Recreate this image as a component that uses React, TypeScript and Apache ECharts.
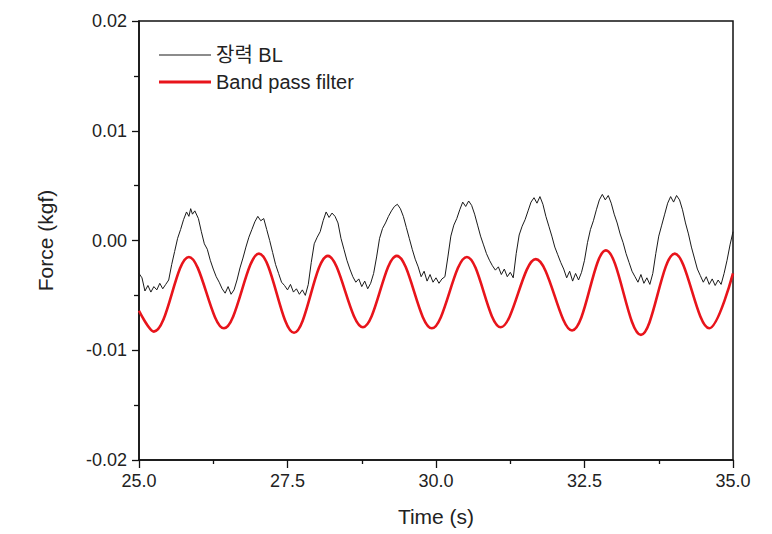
import React, { useEffect, useRef } from "react";
import * as echarts from "echarts";

// Raw tension signal "장력 BL": [time (s), force (kgf)]
const tensionBL: [number, number][] = [
  [25.0, -0.003], [25.05, -0.0034], [25.1, -0.0046], [25.15, -0.0041], [25.2, -0.0047],
  [25.25, -0.0042], [25.3, -0.0045], [25.35, -0.0039], [25.4, -0.0044], [25.45, -0.004],
  [25.5, -0.0036], [25.55, -0.0022], [25.6, -0.001], [25.65, 0.0002], [25.7, 0.001],
  [25.75, 0.0019], [25.8, 0.0026], [25.84, 0.0022], [25.87, 0.0029], [25.9, 0.0024],
  [25.94, 0.0027], [26.0, 0.002], [26.05, 0.0008], [26.1, -0.0003], [26.15, -0.0008],
  [26.2, -0.0018], [26.25, -0.0026], [26.3, -0.0033], [26.35, -0.0038], [26.4, -0.0044],
  [26.45, -0.0048], [26.5, -0.0042], [26.55, -0.0049], [26.6, -0.0045], [26.65, -0.0036],
  [26.7, -0.0025], [26.75, -0.0016], [26.8, -0.0006], [26.85, 0.0003], [26.9, 0.001],
  [26.95, 0.0017], [27.0, 0.0022], [27.05, 0.0018], [27.1, 0.002], [27.15, 0.001],
  [27.2, 0.0], [27.25, -0.0011], [27.3, -0.0022], [27.35, -0.003], [27.4, -0.0038],
  [27.45, -0.0041], [27.5, -0.0045], [27.55, -0.004], [27.6, -0.0047], [27.65, -0.0044],
  [27.7, -0.0049], [27.75, -0.0045], [27.8, -0.005], [27.85, -0.004], [27.9, -0.002],
  [27.95, -0.0003], [28.0, 0.0003], [28.05, 0.0008], [28.1, 0.0018], [28.15, 0.0026],
  [28.2, 0.0021], [28.25, 0.0025], [28.3, 0.0022], [28.35, 0.0016], [28.4, 0.0002],
  [28.45, -0.0008], [28.5, -0.0018], [28.55, -0.0026], [28.6, -0.0033], [28.65, -0.0038],
  [28.7, -0.0035], [28.75, -0.0042], [28.8, -0.0037], [28.85, -0.0044], [28.9, -0.0039],
  [28.95, -0.003], [29.0, -0.0015], [29.05, 0.0002], [29.1, 0.0011], [29.15, 0.0016],
  [29.2, 0.0022], [29.25, 0.0027], [29.3, 0.0031], [29.35, 0.0033], [29.4, 0.0029],
  [29.45, 0.0022], [29.5, 0.0012], [29.55, 0.0002], [29.6, -0.0008], [29.65, -0.0017],
  [29.7, -0.0024], [29.75, -0.0033], [29.8, -0.0028], [29.85, -0.0037], [29.9, -0.0031],
  [29.95, -0.0038], [30.0, -0.0034], [30.05, -0.0039], [30.1, -0.0035], [30.15, -0.0033],
  [30.2, -0.0015], [30.25, 0.0004], [30.3, 0.0014], [30.35, 0.002], [30.4, 0.0028],
  [30.45, 0.0035], [30.5, 0.0031], [30.55, 0.0036], [30.6, 0.0032], [30.65, 0.0024],
  [30.7, 0.0014], [30.75, 0.0004], [30.8, -0.0004], [30.85, -0.0012], [30.9, -0.0018],
  [30.95, -0.0023], [31.0, -0.0027], [31.05, -0.0024], [31.1, -0.0031], [31.15, -0.0026],
  [31.2, -0.0033], [31.25, -0.0029], [31.3, -0.0034], [31.35, -0.0012], [31.4, 0.0005],
  [31.45, 0.0013], [31.5, 0.0019], [31.55, 0.0027], [31.6, 0.0035], [31.65, 0.0039],
  [31.7, 0.0034], [31.75, 0.004], [31.8, 0.0033], [31.85, 0.0022], [31.9, 0.0013],
  [31.95, 0.0004], [32.0, -0.0006], [32.05, -0.0013], [32.1, -0.002], [32.15, -0.0026],
  [32.2, -0.0034], [32.25, -0.0028], [32.3, -0.0037], [32.35, -0.003], [32.4, -0.0036],
  [32.45, -0.0029], [32.5, -0.0018], [32.55, -0.0002], [32.6, 0.001], [32.65, 0.0018],
  [32.7, 0.0028], [32.75, 0.0037], [32.8, 0.0042], [32.85, 0.0037], [32.9, 0.0041],
  [32.95, 0.0034], [33.0, 0.0024], [33.05, 0.0016], [33.1, 0.0006], [33.15, -0.0002],
  [33.2, -0.0012], [33.25, -0.002], [33.3, -0.0028], [33.35, -0.0033], [33.4, -0.0038],
  [33.45, -0.0031], [33.5, -0.0039], [33.55, -0.0034], [33.6, -0.004], [33.65, -0.003],
  [33.7, -0.0012], [33.75, 0.0004], [33.8, 0.0014], [33.85, 0.0024], [33.9, 0.0034],
  [33.95, 0.004], [34.0, 0.0035], [34.05, 0.0041], [34.1, 0.0037], [34.15, 0.0028],
  [34.2, 0.0016], [34.25, 0.0006], [34.3, -0.0006], [34.35, -0.0016], [34.4, -0.0026],
  [34.45, -0.0032], [34.5, -0.0038], [34.55, -0.0033], [34.6, -0.004], [34.65, -0.0035],
  [34.7, -0.0041], [34.75, -0.0036], [34.8, -0.004], [34.85, -0.003], [34.9, -0.0018],
  [34.95, -0.0004], [35.0, 0.0008],
];

// Band pass filter output: turning points (time, force)
const filterTime = [
  25.0, 25.25, 25.84, 26.43, 27.02, 27.61, 28.18, 28.77, 29.34, 29.93,
  30.52, 31.09, 31.68, 32.29, 32.86, 33.45, 34.02, 34.6, 35.0,
];
const filterForce = [
  -0.0064, -0.0083, -0.0015, -0.008, -0.0012, -0.0084, -0.0014, -0.0079, -0.0014, -0.008,
  -0.0015, -0.0079, -0.0017, -0.0082, -0.0009, -0.0086, -0.0012, -0.008, -0.003,
];

const seriesNames = ["장력 BL", "Band pass filter"];
const xTitle = "Time (s)";
const yTitle = "Force (kgf)";

const FONT = "'Liberation Sans', Arial, 'Noto Sans CJK KR', sans-serif";

export default function App() {
  const ref = useRef<HTMLDivElement>(null);

  useEffect(() => {
    document.body.style.margin = "0";
    if (!ref.current) return;
    const chart = echarts.init(ref.current, undefined, { renderer: "svg" });
    const filterData = filterTime.map((t, i) => [t, filterForce[i]]);

    chart.setOption({
      animation: false,
      backgroundColor: "#ffffff",
      textStyle: { fontFamily: FONT },
      grid: {
        left: 139,
        right: 39,
        top: 21,
        bottom: 74,
        show: true,
        borderColor: "#111",
        borderWidth: 1.5,
      },
      legend: {
        orient: "vertical",
        left: 154,
        top: 40,
        padding: 5,
        itemWidth: 52,
        itemHeight: 14,
        itemGap: 7,
        symbolKeepAspect: true,
        textStyle: { fontSize: 20, color: "#222", fontFamily: FONT },
        data: [
          { name: seriesNames[0], icon: "path://M0,0H52V1H0Z" },
          { name: seriesNames[1], icon: "path://M0,0H52V3H0Z" },
        ],
      },
      xAxis: {
        type: "value",
        min: 25,
        max: 35,
        interval: 2.5,
        name: xTitle,
        nameLocation: "middle",
        nameGap: 46,
        nameTextStyle: { fontSize: 21, color: "#222", fontFamily: FONT },
        axisLine: { show: true, onZero: false, lineStyle: { color: "#111", width: 1.5 } },
        axisTick: { show: true, length: 8, lineStyle: { color: "#111", width: 1.3 } },
        minorTick: { show: true, splitNumber: 2, length: 4, lineStyle: { color: "#111", width: 1.3 } },
        axisLabel: {
          fontSize: 18,
          color: "#222",
          margin: 12,
          fontFamily: FONT,
          formatter: (v: number) => v.toFixed(1),
        },
        splitLine: { show: false },
      },
      yAxis: {
        type: "value",
        min: -0.02,
        max: 0.02,
        interval: 0.01,
        name: yTitle,
        nameLocation: "middle",
        nameGap: 83,
        nameTextStyle: { fontSize: 21, color: "#222", fontFamily: FONT },
        axisLine: { show: true, onZero: false, lineStyle: { color: "#111", width: 1.5 } },
        axisTick: { show: true, length: 7, lineStyle: { color: "#111", width: 1.3 } },
        minorTick: { show: true, splitNumber: 2, length: 5, lineStyle: { color: "#111", width: 1.3 } },
        axisLabel: {
          fontSize: 18,
          color: "#222",
          margin: 12,
          fontFamily: FONT,
          formatter: (v: number) => v.toFixed(2),
        },
        splitLine: { show: false },
      },
      series: [
        {
          name: seriesNames[0],
          type: "line",
          data: tensionBL,
          showSymbol: false,
          symbol: "none",
          lineStyle: { color: "#1a1a1a", width: 1 },
          itemStyle: { color: "#1a1a1a" },
          z: 3,
        },
        {
          name: seriesNames[1],
          type: "line",
          data: filterData,
          smooth: 0.36,
          showSymbol: false,
          symbol: "none",
          lineStyle: { color: "#e8141b", width: 2.6 },
          itemStyle: { color: "#e8141b" },
          z: 2,
        },
      ],
    });

    return () => chart.dispose();
  }, []);

  return (
    <div
      ref={ref}
      style={{ width: 772, height: 534, position: "absolute", left: 0, top: 0 }}
    />
  );
}
